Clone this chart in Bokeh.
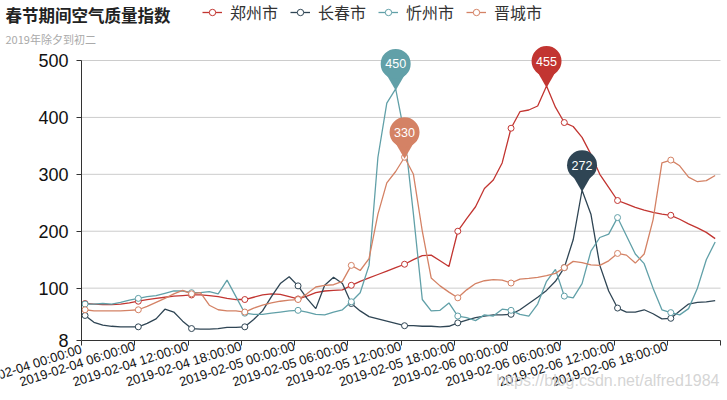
import datetime as dt
from bokeh.plotting import figure
from bokeh.models import (ColumnDataSource, Range1d, DatetimeTickFormatter, FixedTicker,
                          Label, Legend, LegendItem, LinearAxis, DatetimeAxis)
from bokeh.embed import file_html
from bokeh.resources import INLINE
from bokeh.core.properties import value

# ---------------- data ----------------
title_text = "春节期间空气质量指数"
subtitle_text = "2019年除夕到初二"
city_names = ["郑州市", "长春市", "忻州市", "晋城市"]
city_colors = ["#c23531", "#2f4554", "#61a0a8", "#d48265"]

first_time = dt.datetime(2019, 2, 4, 0, 24)
n_hours = 72
times = [first_time + dt.timedelta(hours=h) for h in range(n_hours)]

zhengzhou = [73, 72, 71, 71, 72, 74, 77, 80, 82, 84, 86, 87, 88, 88, 87, 85, 82, 80,
             80, 84, 88, 90, 89, 85, 81, 86, 92, 95, 96, 97, 105, 112, 118, 124, 130, 136,
             142, 150, 157, 158, 148, 138, 200, 222, 243, 275, 290, 320, 381, 410, 413, 420,
             455, 418, 391, 384, 365, 335, 300, 277, 254, 248, 242, 237, 233, 230, 228, 221,
             213, 206, 198, 187]
changchun = [52, 40, 35, 33, 32, 32, 32, 38, 46, 63, 58, 42, 29, 28, 28, 29, 31, 31,
             32, 45, 60, 85, 108, 120, 104, 82, 64, 105, 119, 108, 73, 60, 50, 46, 42, 38,
             34, 34, 33, 33, 32, 33, 39, 44, 48, 51, 53, 53, 54, 62, 73, 84, 96, 112,
             136, 185, 272, 230, 140, 95, 65, 58, 58, 62, 55, 46, 47, 60, 72, 75, 76, 78]
xinzhou = [72, 72, 73, 72, 75, 79, 82, 85, 87, 91, 95, 95, 92, 92, 94, 90, 114, 85,
           56, 54, 54, 56, 58, 60, 61, 58, 54, 53, 58, 62, 76, 92, 140, 330, 425, 450,
           370, 230, 80, 60, 61, 74, 51, 48, 43, 53, 51, 63, 61, 54, 51, 72, 112, 133,
           86, 83, 108, 165, 189, 195, 224, 192, 160, 143, 100, 62, 57, 53, 64, 100, 150, 181]
jincheng = [62, 60, 60, 60, 60, 61, 62, 68, 75, 82, 90, 96, 90, 92, 70, 62, 60, 60,
            58, 65, 70, 74, 77, 79, 80, 90, 102, 105, 106, 112, 140, 131, 152, 230, 285, 305,
            330, 300, 200, 118, 104, 93, 83, 97, 108, 113, 115, 114, 109, 116, 117, 119, 122, 126,
            136, 147, 145, 141, 140, 148, 161, 158, 144, 160, 220, 320, 325, 315, 295, 287, 289, 298]
series = [zhengzhou, changchun, xinzhou, jincheng]

y_min, y_max = 8, 500
y_ticks = [8, 100, 200, 300, 400, 500]
x_start = dt.datetime(2019, 2, 4, 0, 0)
x_end = dt.datetime(2019, 2, 7, 0, 0)
x_tick_times = [x_start + dt.timedelta(hours=6 * i) for i in range(13)]
symbol_every = 6
watermark_text = "https://blog.csdn.net/alfred1984"

# ---------------- layout (pixels of the picture) ----------------
W, H = 727, 400
PL, PR, PT, PB = 81, 720, 60, 340          # plot-area box inside the canvas
epoch = dt.datetime(1970, 1, 1)
ms = lambda t: (t - epoch).total_seconds() * 1000.0
x0, x1 = ms(x_start), ms(x_end)
ms_per_px = (x1 - x0) / (PR - PL)
v_per_px = (y_max - y_min) / float(PB - PT)
xr = Range1d(x0 - PL * ms_per_px, x1 + (W - PR) * ms_per_px)
yr = Range1d(y_min - (H - PB) * v_per_px, y_max + PT * v_per_px)

p = figure(width=W, height=H, output_backend="svg", toolbar_location=None,
           x_range=xr, y_range=yr, x_axis_location=None, y_axis_location=None,
           min_border=0, min_border_left=0, min_border_right=0, min_border_top=0,
           min_border_bottom=0)
p.outline_line_color = None
p.background_fill_color = "white"
p.border_fill_color = "white"
p.xgrid.visible = False
p.ygrid.visible = False

# horizontal grid lines over the plot box
grid_vals = [v for v in y_ticks if v != y_min]
p.segment(x0=[x_start] * len(grid_vals), x1=[x_end] * len(grid_vals), y0=grid_vals,
          y1=grid_vals, line_color="#cccccc", line_width=1)

fmt = "%Y-%m-%d %H:%M:%S"
label_angle = 0.31
xaxis = DatetimeAxis(fixed_location=y_min, bounds=(x0, x1),
                     ticker=FixedTicker(ticks=[ms(t) for t in x_tick_times]),
                     formatter=DatetimeTickFormatter(hours=fmt, days=fmt, hourmin=fmt,
                                                     minutes=fmt, months=fmt, years=fmt))
# first label is drawn separately so that it runs off the left edge as in the reference;
# the end tick has no label
xaxis.major_label_overrides = {ms(x_tick_times[0]): "", ms(x_tick_times[-1]): ""}
xaxis.major_label_orientation = label_angle
yaxis = LinearAxis(fixed_location=x0, bounds=(y_min, y_max), ticker=FixedTicker(ticks=y_ticks))
for ax in (xaxis, yaxis):
    ax.axis_line_color = "#333333"
    ax.major_tick_line_color = "#333333"
    ax.major_tick_out = 5
    ax.major_tick_in = 0
    ax.minor_tick_line_color = None
    ax.major_label_text_color = "#111111"
    ax.major_label_text_font = "Liberation Sans"
xaxis.major_label_text_font_size = "13px"
xaxis.major_label_standoff = 0
yaxis.major_label_text_font_size = "18px"
yaxis.major_label_standoff = 8
p.add_layout(xaxis, "below")
p.add_layout(yaxis, "left")

p.add_layout(Label(x=ms(x_tick_times[0]), y=H - PB - 8, x_units="data", y_units="screen",
                   text=x_tick_times[0].strftime(fmt), angle=label_angle,
                   text_font="Liberation Sans", text_font_size="13px", text_color="#111111",
                   text_align="right", text_baseline="middle"))

legend_items = []
for name, color, vals in zip(city_names, city_colors, series):
    src = ColumnDataSource(dict(x=times, y=vals))
    ln = p.line("x", "y", source=src, line_color=color, line_width=1.3)
    sym = ColumnDataSource(dict(x=times[::symbol_every], y=vals[::symbol_every]))
    sc = p.scatter("x", "y", source=sym, size=6, marker="circle", fill_color="white",
                   line_color=color, line_width=1)
    legend_items.append(LegendItem(label=name, renderers=[ln, sc]))

# mark points (pins) at each series' maximum
pin_x, pin_head, pin_tail, pin_lab, pin_col = [], [], [], [], []
for color, vals in zip(city_colors, series):
    k = max(range(n_hours), key=lambda i: vals[i])
    pin_x.append(times[k])
    pin_head.append(vals[k] + 25 * v_per_px)
    pin_tail.append(vals[k] + 10 * v_per_px)
    pin_lab.append(str(vals[k]))
    pin_col.append(color)
pins = ColumnDataSource(dict(x=pin_x, head=pin_head, tail=pin_tail, lab=pin_lab, col=pin_col))
p.scatter("x", "tail", source=pins, marker="inverted_triangle", size=20,
          fill_color="col", line_color=None)
p.scatter("x", "head", source=pins, marker="circle", size=30, fill_color="col", line_color=None)
p.text("x", "head", text="lab", source=pins, text_color="white", text_font_size="12.5px",
       text_font=value("Liberation Sans"), text_align="center", text_baseline="middle")

legend = Legend(items=legend_items, orientation="horizontal", location=(202, H - 24),
                padding=0, margin=0, spacing=12, glyph_width=20, glyph_height=16,
                label_standoff=8, label_text_font_size="16px", label_height=16,
                label_text_font="Noto Sans CJK SC", label_text_color="#333333",
                background_fill_alpha=0, border_line_color=None)
p.add_layout(legend, "center")

p.add_layout(Label(x=5, y=H - 14, x_units="screen", y_units="screen", text=title_text,
                   text_font="Noto Sans CJK SC", text_font_size="16.5px", text_font_style="bold",
                   text_color="#222222", text_baseline="middle"))
p.add_layout(Label(x=5, y=H - 38, x_units="screen", y_units="screen", text=subtitle_text,
                   text_font="Noto Sans CJK SC", text_font_size="11px",
                   text_color="#aaaaaa", text_baseline="middle"))
p.add_layout(Label(x=719, y=H - 380, x_units="screen", y_units="screen",
                   text=watermark_text, text_font="Liberation Sans", text_font_size="16px",
                   text_align="right", text_color="#d0d0d0", text_alpha=0.9,
                   text_baseline="middle"))

open("out.html", "w").write(file_html(p, INLINE))
